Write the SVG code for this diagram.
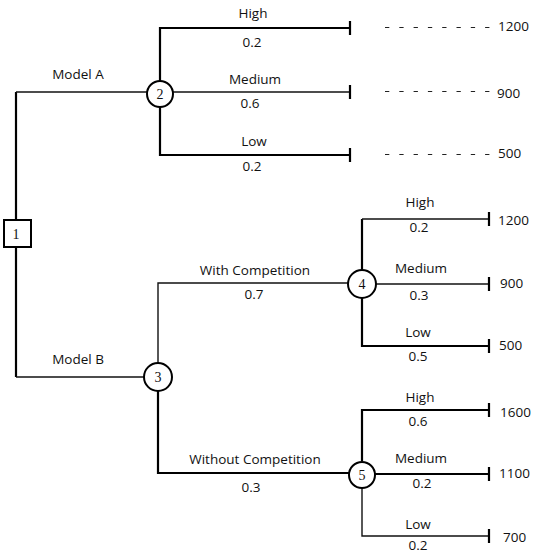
<svg xmlns="http://www.w3.org/2000/svg" width="542" height="559" viewBox="0 0 542 559">
<style>
.bg{fill:#fff}
.lbl{font-family:"Open Sans","Liberation Sans",sans-serif;font-size:13.5px;fill:#111;text-anchor:middle}
.val{font-family:"Open Sans","Liberation Sans",sans-serif;font-size:13.5px;fill:#111}
.num{font-family:"Liberation Serif",serif;font-size:14px;fill:#111;text-anchor:middle}
.n{fill:#fff;stroke:#000;stroke-width:2}
.thk{stroke:#000;stroke-width:2.2;fill:none}
.thn{stroke:#111;stroke-width:1.4;fill:none}
.dash{stroke:#222;stroke-width:1.1;stroke-dasharray:4.3 10;fill:none}
</style>
<rect class="bg" width="542" height="559"/>
<g id="connectors">
  <path class="thk" d="M16 219 V92"/>
  <path class="thn" d="M16 92 H147"/>
  <path class="thk" d="M16 247 V377"/>
  <path class="thn" d="M16 377 H145"/>
  <path class="thk" d="M160 81 V28 H350"/>
  <path class="thn" d="M173 92 H350"/>
  <path class="thk" d="M160 107 V155 H350"/>
  <path class="thk" d="M350 21 V35 M350 85 V99 M350 148 V162"/>
  <path class="dash" d="M385 27.5 H492 M385 91.5 H492 M385 154.5 H492"/>
  <path class="thn" d="M158 363 V283 H349"/>
  <path class="thk" d="M158 391 V473 H349"/>
  <path class="thk" d="M362 270 V219"/>
  <path class="thn" d="M362 219 H489"/>
  <path class="thn" d="M376 284 H489"/>
  <path class="thk" d="M362 298 V346 H489"/>
  <path class="thk" d="M489 212 V226 M489 277 V291 M489 339 V353"/>
  <path class="thk" d="M362 461 V410 H489"/>
  <path class="thk" d="M375 474 H489"/>
  <path class="thn" d="M362 488 V536 H489"/>
  <path class="thk" d="M489 403 V417 M489 467 V481 M489 529 V543"/>
</g>
<g id="node1"><rect class="n" x="4" y="220" width="27" height="27"/><text class="num" x="16" y="239">1</text></g>
<g id="node2"><circle class="n" cx="160" cy="94" r="13"/><text class="num" x="160" y="99">2</text></g>
<g id="node3"><circle class="n" cx="158" cy="377" r="14"/><text class="num" x="158" y="382">3</text></g>
<g id="node4"><circle class="n" cx="362" cy="284" r="14"/><text class="num" x="362" y="289">4</text></g>
<g id="node5"><circle class="n" cx="362" cy="475" r="13"/><text class="num" x="362" y="480">5</text></g>
<g id="labels">
  <text class="lbl" x="78" y="79">Model A</text>
  <text class="lbl" x="78" y="364">Model B</text>
  <text class="lbl" x="253" y="18">High</text>
  <text class="lbl" x="252" y="47">0.2</text>
  <text class="lbl" x="255" y="84">Medium</text>
  <text class="lbl" x="250" y="108">0.6</text>
  <text class="lbl" x="254" y="146">Low</text>
  <text class="lbl" x="252" y="171">0.2</text>
  <text class="lbl" x="255" y="275">With Competition</text>
  <text class="lbl" x="254" y="299">0.7</text>
  <text class="lbl" x="255" y="464">Without Competition</text>
  <text class="lbl" x="251" y="492">0.3</text>
  <text class="lbl" x="420" y="207">High</text>
  <text class="lbl" x="419" y="232">0.2</text>
  <text class="lbl" x="421" y="273">Medium</text>
  <text class="lbl" x="419" y="300">0.3</text>
  <text class="lbl" x="418" y="337">Low</text>
  <text class="lbl" x="418" y="361">0.5</text>
  <text class="lbl" x="420" y="402">High</text>
  <text class="lbl" x="418" y="426">0.6</text>
  <text class="lbl" x="421" y="463">Medium</text>
  <text class="lbl" x="422" y="488">0.2</text>
  <text class="lbl" x="418" y="529">Low</text>
  <text class="lbl" x="418" y="550">0.2</text>
  <text class="val" x="498" y="31">1200</text>
  <text class="val" x="497" y="98">900</text>
  <text class="val" x="498" y="158">500</text>
  <text class="val" x="498" y="225">1200</text>
  <text class="val" x="500" y="288">900</text>
  <text class="val" x="499" y="350">500</text>
  <text class="val" x="500" y="417">1600</text>
  <text class="val" x="499" y="478">1100</text>
  <text class="val" x="503" y="542">700</text>
</g>
</svg>
